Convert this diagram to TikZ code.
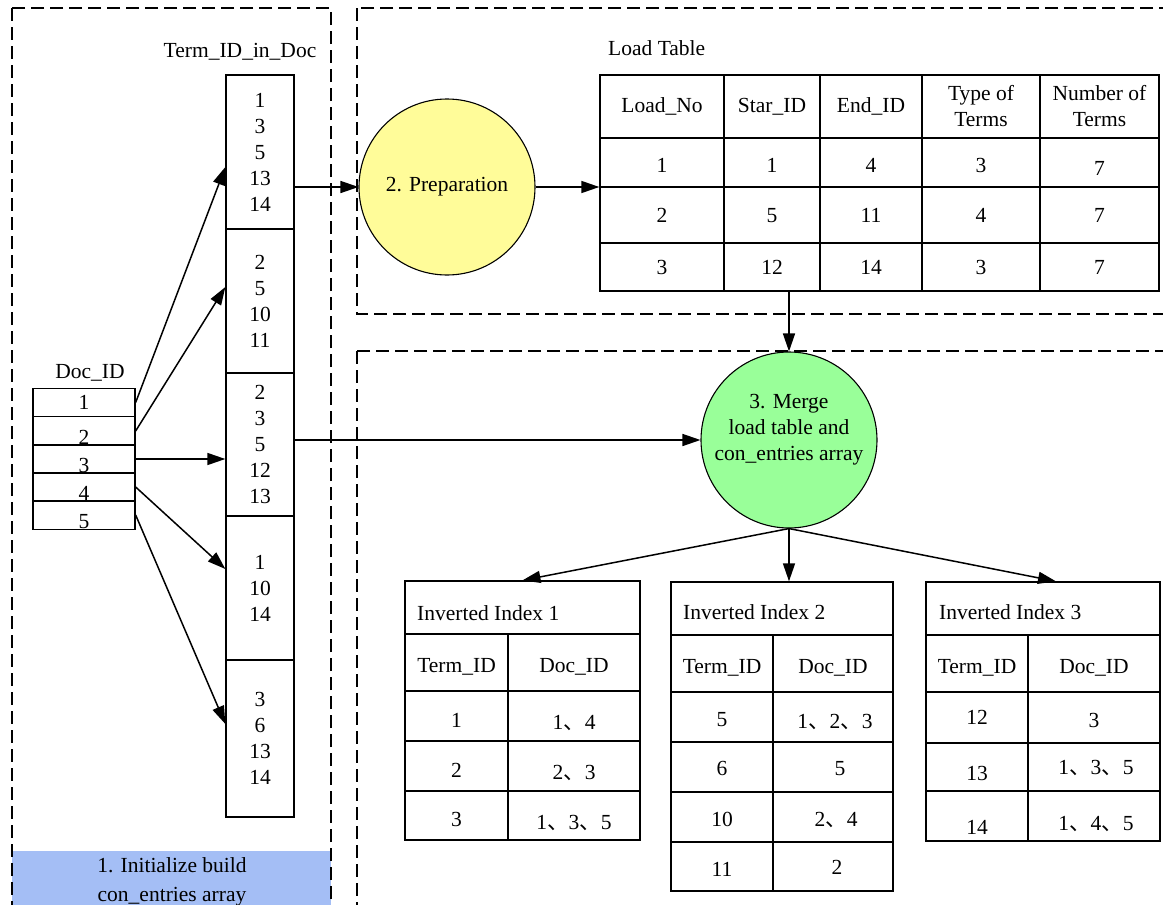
\documentclass[tikz,border=0pt]{standalone}
\usepackage{fontspec}
\setmainfont{Liberation Serif}
\newfontfamily\tnr{Liberation Serif}
\newfontfamily\cjk{Noto Sans CJK SC}
\usetikzlibrary{arrows.meta}
\definecolor{yel}{HTML}{FFFC99}
\definecolor{grn}{HTML}{99FF99}
\definecolor{blu}{HTML}{A4BEF5}
\newcommand\dn[2]{\raisebox{-#1pt}{#2}}
\newcommand\cm{{\cjk 、}}
\begin{document}
\begin{tikzpicture}[x=1pt,y=-1pt,
  font=\tnr\fontsize{21.5}{26}\selectfont,
  dbox/.style={draw, line width=1.8pt, dash pattern=on 13pt off 6pt},
  cell/.style={draw, line width=1.3pt, inner sep=0pt},
  tc/.style={cell, text height=14pt, text depth=0pt},
  arr/.style={line width=1.5pt, -{Triangle[length=18pt,width=12pt]}},
  circ/.style={circle, draw, line width=1.1pt, minimum size=176pt, inner sep=0pt}]
\useasboundingbox (0,0) rectangle (1163,905);
\clip (0,0) rectangle (1163,905);

% blue label
\node[fill=blu, minimum width=319pt, minimum height=70pt, anchor=north west, inner sep=0pt] (initbox) at (12,851) {};
\node[align=center] (inittext) at (172,882) {1. Initialize build\\[3pt]con\_entries array};

% dashed regions
\draw[dbox] (12,8) rectangle (331,940);
\draw[dbox] (357,8) rectangle (1190,314);
\draw[dbox] (357,351) rectangle (1190,940);

% labels
\node (tidlabel) at (240,52) {Term\_ID\_in\_Doc};
\node[anchor=west, inner sep=0pt] (ltlabel) at (608,48) {Load Table};
\node (doclabel) at (90,373) {Doc\_ID};

% Term_ID_in_Doc column
\node[cell, minimum width=68pt, minimum height=154pt, align=center] (c1) at (260,152) {1\\3\\5\\13\\14};
\node[cell, minimum width=68pt, minimum height=144pt, align=center] (c2) at (260,301) {2\\5\\10\\11};
\node[cell, minimum width=68pt, minimum height=143pt, align=center] (c3) at (260,444.5) {2\\3\\5\\12\\13};
\node[cell, minimum width=68pt, minimum height=144pt, align=center] (c4) at (260,588) {1\\10\\14};
\node[cell, minimum width=68pt, minimum height=157pt, align=center] (c5) at (260,738.5) {3\\6\\13\\14};

% Doc_ID table
\node[tc, minimum width=102pt, minimum height=28.5pt] (d1) at (84,402.5) {1};
\node[tc, minimum width=102pt, minimum height=28.5pt] (d2) at (84,431) {\dn{6}{2}};
\node[tc, minimum width=102pt, minimum height=28.5pt] (d3) at (84,459) {\dn{6}{3}};
\node[tc, minimum width=102pt, minimum height=28.5pt] (d4) at (84,487) {\dn{6}{4}};
\node[tc, minimum width=102pt, minimum height=28.5pt] (d5) at (84,515) {\dn{6}{5}};

% circles
\node[circ, fill=yel] (prep) at (447,187) {2. Preparation};
\node[circ, fill=grn] (merge) at (789,440) {};
\node[align=center] (mergetext) at (789,430) {3. Merge\\load table and\\con\_entries array};

% Load table
\node[cell, minimum width=124pt, minimum height=63pt] (h1) at (662,106.5) {\dn{3}{Load\_No}};
\node[cell, minimum width=96pt, minimum height=63pt] (h2) at (772,106.5) {\dn{3}{Star\_ID}};
\node[cell, minimum width=102pt, minimum height=63pt] (h3) at (871,106.5) {\dn{3}{End\_ID}};
\node[cell, minimum width=118pt, minimum height=63pt, align=center] (h4) at (981,106.5) {Type of\\Terms};
\node[cell, minimum width=119pt, minimum height=63pt, align=center] (h5) at (1099.5,106.5) {Number of\\Terms};
\node[tc, minimum width=124pt, minimum height=49pt] (l11) at (662,162.5) {\dn{3}{1}};
\node[tc, minimum width=96pt, minimum height=49pt] (l12) at (772,162.5) {\dn{3}{1}};
\node[tc, minimum width=102pt, minimum height=49pt] (l13) at (871,162.5) {\dn{3}{4}};
\node[tc, minimum width=118pt, minimum height=49pt] (l14) at (981,162.5) {\dn{3}{3}};
\node[tc, minimum width=119pt, minimum height=49pt] (l15) at (1099.5,162.5) {\dn{6}{7}};
\node[tc, minimum width=124pt, minimum height=56pt] (l21) at (662,215) {2};
\node[tc, minimum width=96pt, minimum height=56pt] (l22) at (772,215) {5};
\node[tc, minimum width=102pt, minimum height=56pt] (l23) at (871,215) {11};
\node[tc, minimum width=118pt, minimum height=56pt] (l24) at (981,215) {4};
\node[tc, minimum width=119pt, minimum height=56pt] (l25) at (1099.5,215) {7};
\node[tc, minimum width=124pt, minimum height=48pt] (l31) at (662,267) {3};
\node[tc, minimum width=96pt, minimum height=48pt] (l32) at (772,267) {12};
\node[tc, minimum width=102pt, minimum height=48pt] (l33) at (871,267) {14};
\node[tc, minimum width=118pt, minimum height=48pt] (l34) at (981,267) {3};
\node[tc, minimum width=119pt, minimum height=48pt] (l35) at (1099.5,267) {7};

% Inverted Index 1
\node[cell, minimum width=235pt, minimum height=53pt] (ii1) at (522.5,607.5) {};
\node[anchor=west, inner sep=0pt] (ii1t) at (417,613) {Inverted Index 1};
\node[tc, minimum width=103pt, minimum height=57pt] (ii1a) at (456.5,662.5) {\dn{3}{Term\_ID}};
\node[tc, minimum width=132pt, minimum height=57pt] (ii1b) at (574,662.5) {\dn{3}{Doc\_ID}};
\node[tc, minimum width=103pt, minimum height=50pt] (ii1r1a) at (456.5,716) {\dn{4}{1}};
\node[tc, minimum width=132pt, minimum height=50pt] (ii1r1b) at (574,716) {\dn{6}{1\cm4}};
\node[tc, minimum width=103pt, minimum height=50pt] (ii1r2a) at (456.5,766) {\dn{4}{2}};
\node[tc, minimum width=132pt, minimum height=50pt] (ii1r2b) at (574,766) {\dn{6}{2\cm3}};
\node[tc, minimum width=103pt, minimum height=49pt] (ii1r3a) at (456.5,815.5) {\dn{4}{3}};
\node[tc, minimum width=132pt, minimum height=49pt] (ii1r3b) at (574,815.5) {\dn{7}{1\cm3\cm5}};

% Inverted Index 2
\node[cell, minimum width=222pt, minimum height=53pt] (ii2) at (782,608.5) {};
\node[anchor=west, inner sep=0pt] (ii2t) at (683,612) {Inverted Index 2};
\node[tc, minimum width=102pt, minimum height=57pt] (ii2a) at (722,663.5) {\dn{3}{Term\_ID}};
\node[tc, minimum width=120pt, minimum height=57pt] (ii2b) at (833,663.5) {\dn{3}{Doc\_ID}};
\node[tc, minimum width=102pt, minimum height=50pt] (ii2r1a) at (722,717) {\dn{2}{5}};
\node[tc, minimum width=120pt, minimum height=50pt] (ii2r1b) at (833,717) {\hspace{4pt}\dn{4}{1\cm2\cm3}};
\node[tc, minimum width=102pt, minimum height=50pt] (ii2r2a) at (722,767) {\dn{1}{6}};
\node[tc, minimum width=120pt, minimum height=50pt] (ii2r2b) at (833,767) {\hspace{14pt}\dn{1}{5}};
\node[tc, minimum width=102pt, minimum height=50pt] (ii2r3a) at (722,817) {\dn{2}{10}};
\node[tc, minimum width=120pt, minimum height=50pt] (ii2r3b) at (833,817) {\hspace{6pt}\dn{2}{2\cm4}};
\node[tc, minimum width=102pt, minimum height=49pt] (ii2r4a) at (722,866.5) {\dn{3}{11}};
\node[tc, minimum width=120pt, minimum height=49pt] (ii2r4b) at (833,866.5) {\hspace{8pt}\dn{1}{2}};

% Inverted Index 3
\node[cell, minimum width=234pt, minimum height=53pt] (ii3) at (1043,608.5) {};
\node[anchor=west, inner sep=0pt] (ii3t) at (939,612) {Inverted Index 3};
\node[tc, minimum width=102pt, minimum height=57pt] (ii3a) at (977,663.5) {\dn{3}{Term\_ID}};
\node[tc, minimum width=132pt, minimum height=57pt] (ii3b) at (1094,663.5) {\dn{3}{Doc\_ID}};
\node[tc, minimum width=102pt, minimum height=51pt] (ii3r1a) at (977,717.5) {12};
\node[tc, minimum width=132pt, minimum height=51pt] (ii3r1b) at (1094,717.5) {\dn{3}{3}};
\node[tc, minimum width=102pt, minimum height=48pt] (ii3r2a) at (977,767) {\dn{6}{13}};
\node[tc, minimum width=132pt, minimum height=48pt] (ii3r2b) at (1094,767) {\hspace{4pt}1\cm3\cm5};
\node[tc, minimum width=102pt, minimum height=50pt] (ii3r3a) at (977,816) {\dn{11}{14}};
\node[tc, minimum width=132pt, minimum height=50pt] (ii3r3b) at (1094,816) {\hspace{4pt}\dn{7}{1\cm4\cm5}};

% connectors
\draw[arr] (d1.east) -- ([yshift=-15pt]c1.west);
\draw[arr] (d2.east) -- ([yshift=14pt]c2.west);
\draw[arr] (d3.east) -- (d3.east -| c3.west);
\draw[arr] (d4.east) -- ([yshift=19pt]c4.west);
\draw[arr] (d5.east) -- ([yshift=14.5pt]c5.west);
\draw[arr] (c1.east |- prep.west) -- (prep.west);
\draw[arr] (prep.east) -- (prep.east -| h1.west);
\draw[arr] (merge.north |- l31.south) -- (merge.north);
\draw[arr] (c3.east |- merge.west) -- (merge.west);
\draw[arr] (merge.south) -- (ii1.north);
\draw[arr] (merge.south) -- (merge.south |- ii2.north);
\draw[arr] (merge.south) -- ([xshift=13pt]ii3.north);
\end{tikzpicture}
\end{document}
